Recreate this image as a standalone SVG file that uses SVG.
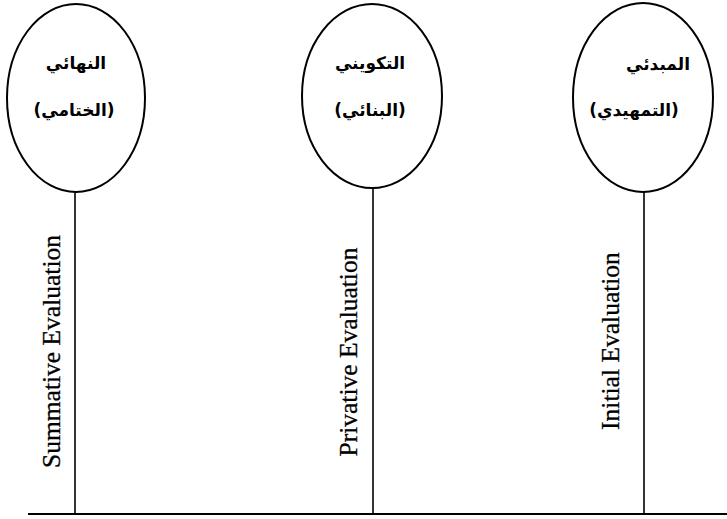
<svg xmlns="http://www.w3.org/2000/svg" width="727" height="519" viewBox="0 0 727 519">
<style>
.node ellipse{fill:#fff;stroke:#000;stroke-width:2}
.ar{font-family:"DejaVu Sans",sans-serif;font-size:17px;font-weight:bold;text-anchor:middle;fill:#000}
.en{font-family:"Liberation Serif","Times New Roman",serif;font-size:25.5px;text-anchor:middle;fill:#000;stroke:#000;stroke-width:0.3}
.conn line{stroke:#000;stroke-width:1.6}
</style>
<rect width="727" height="519" fill="#fff"/>
<g id="connectors" class="conn">
<line x1="75" y1="192" x2="75" y2="514"/>
<line x1="373" y1="188" x2="373" y2="514"/>
<line x1="644" y1="192" x2="644" y2="514"/>
<line x1="28" y1="514" x2="727" y2="514" style="stroke-width:2"/>
</g>
<g id="node-summative" class="node">
<ellipse cx="76" cy="98" rx="69" ry="94"/>
<text class="ar" x="76" y="69" direction="rtl">النهائي</text>
<text class="ar" x="74" y="116" direction="rtl">(الختامي)</text>
</g>
<g id="node-privative" class="node">
<ellipse cx="372" cy="96" rx="70" ry="92"/>
<text class="ar" x="370" y="69" direction="rtl">التكويني</text>
<text class="ar" x="370" y="116" direction="rtl">(البنائي)</text>
</g>
<g id="node-initial" class="node">
<ellipse cx="643" cy="97.5" rx="70" ry="94.5"/>
<text class="ar" x="658" y="70" direction="rtl">المبدئي</text>
<text class="ar" x="634" y="116" direction="rtl">(التمهيدي)</text>
</g>
<g id="label-summative">
<text class="en" transform="translate(60,351.5) rotate(-90)">Summative Evaluation</text>
</g>
<g id="label-privative">
<text class="en" transform="translate(357,352) rotate(-90)">Privative Evaluation</text>
</g>
<g id="label-initial">
<text class="en" transform="translate(619,341) rotate(-90)">Initial Evaluation</text>
</g>
</svg>
